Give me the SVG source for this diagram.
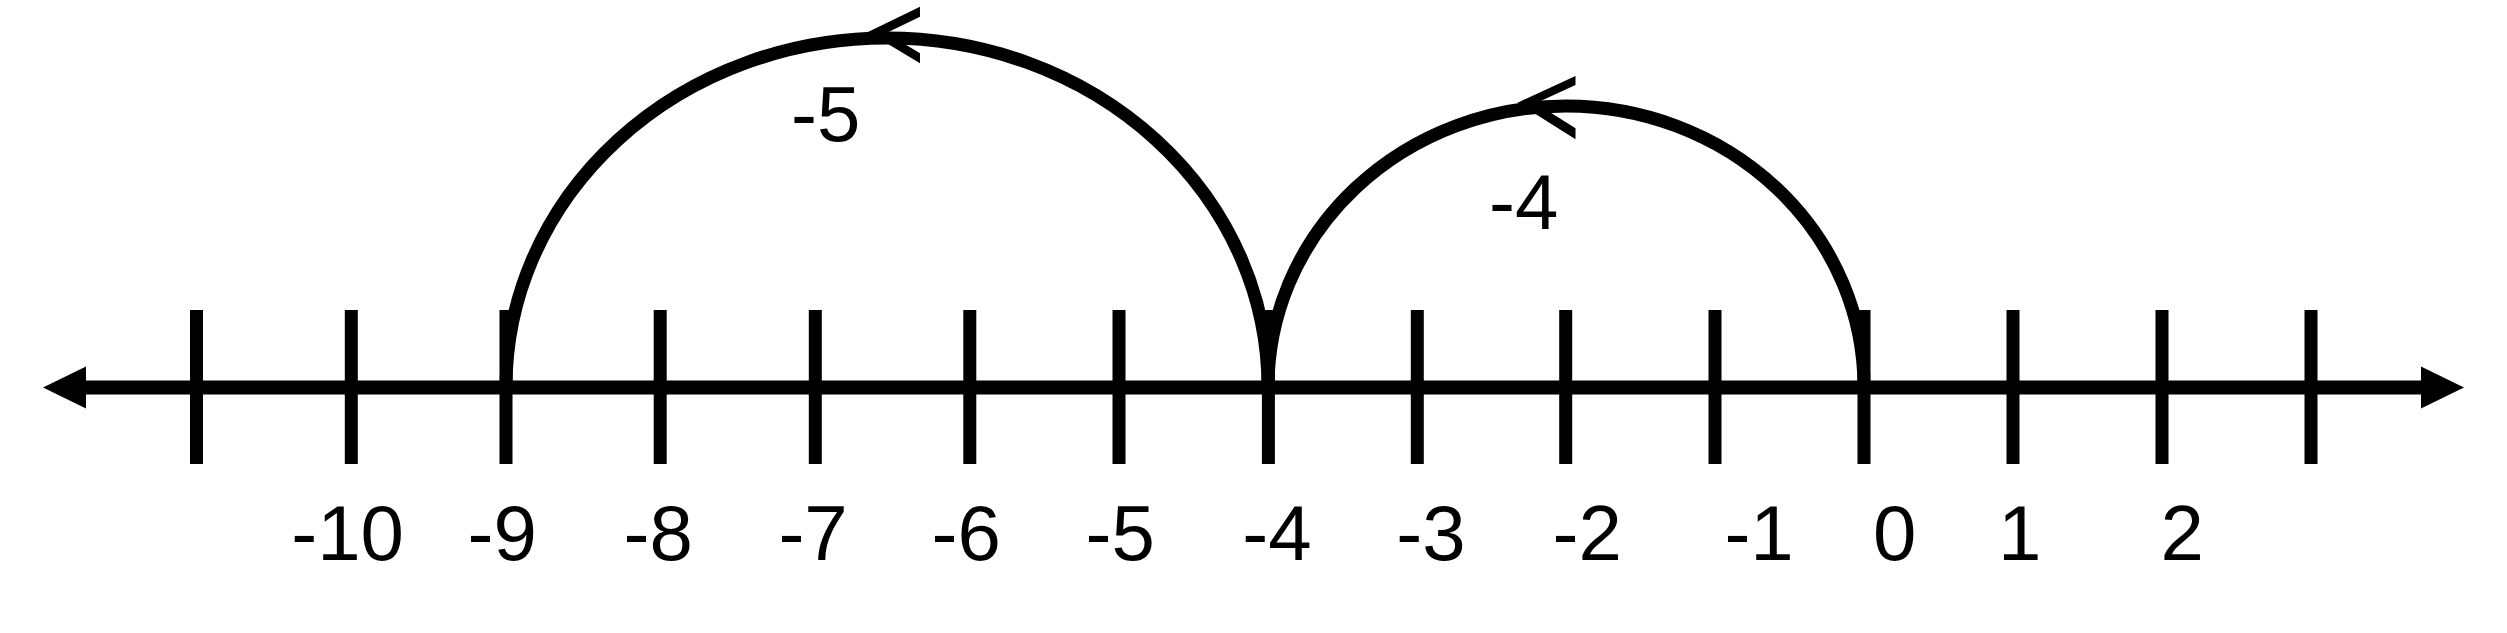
<svg xmlns="http://www.w3.org/2000/svg" width="2507" height="633" viewBox="0 0 2507 633">
<style>
.bg{fill:#ffffff}
.axis{stroke:#000;stroke-width:14;fill:none}
.tick{stroke:#000;stroke-width:13;fill:none}
.jump{stroke:#000;stroke-width:13;fill:none}
.head{fill:#000;stroke:none}
.lbl{font-family:"Liberation Sans",Arial,sans-serif;font-size:78px;fill:#000}
</style>
<rect class="bg" x="0" y="0" width="2507" height="633"/>
<g id="axis">
  <line class="axis" x1="80" y1="387.5" x2="2426" y2="387.5"/>
  <polygon class="head" points="43,387.5 86,366.5 86,408.5"/>
  <polygon class="head" points="2464,387.5 2421,366.5 2421,408.5"/>
</g>
<g id="ticks">
  <line class="tick" x1="196.5" y1="310" x2="196.5" y2="464"/>
  <line class="tick" x1="351.3" y1="310" x2="351.3" y2="464"/>
  <line class="tick" x1="506" y1="310" x2="506" y2="464"/>
  <line class="tick" x1="660.2" y1="310" x2="660.2" y2="464"/>
  <line class="tick" x1="815.3" y1="310" x2="815.3" y2="464"/>
  <line class="tick" x1="969.8" y1="310" x2="969.8" y2="464"/>
  <line class="tick" x1="1119" y1="310" x2="1119" y2="464"/>
  <line class="tick" x1="1268.4" y1="310" x2="1268.4" y2="464"/>
  <line class="tick" x1="1417.3" y1="310" x2="1417.3" y2="464"/>
  <line class="tick" x1="1565.7" y1="310" x2="1565.7" y2="464"/>
  <line class="tick" x1="1715" y1="310" x2="1715" y2="464"/>
  <line class="tick" x1="1864" y1="310" x2="1864" y2="464"/>
  <line class="tick" x1="2013" y1="310" x2="2013" y2="464"/>
  <line class="tick" x1="2162" y1="310" x2="2162" y2="464"/>
  <line class="tick" x1="2311" y1="310" x2="2311" y2="464"/>
</g>
<g id="labels">
  <text class="lbl" x="291.2" y="560">-10</text>
  <text class="lbl" x="467.6" y="560">-9</text>
  <text class="lbl" x="623.6" y="560">-8</text>
  <text class="lbl" x="778.4" y="560">-7</text>
  <text class="lbl" x="931.6" y="560">-6</text>
  <text class="lbl" x="1085.6" y="560">-5</text>
  <text class="lbl" x="1242.2" y="560">-4</text>
  <text class="lbl" x="1396.2" y="560">-3</text>
  <text class="lbl" x="1552.6" y="560">-2</text>
  <text class="lbl" x="1724.4" y="560">-1</text>
  <text class="lbl" x="1873" y="560">0</text>
  <text class="lbl" x="1998" y="560">1</text>
  <text class="lbl" x="2160.5" y="560">2</text>
</g>
<g id="connectors">
  <g id="jump-minus5">
    <path class="jump" d="M 506 387 A 381 349 0 0 1 1268 387"/>
    <polygon class="head" points="868,32 920,6.7 920,16.7 886.4,33 920,53.3 920,63.3"/>
    <text class="lbl" x="791" y="141">-5</text>
  </g>
  <g id="jump-minus4">
    <path class="jump" d="M 1268 387 A 298 281 0 0 1 1864 387"/>
    <polygon class="head" points="1517.4,102.7 1575.5,76 1575.5,85 1535.8,103.3 1575.5,128.3 1575.5,139.3"/>
    <text class="lbl" x="1489" y="229">-4</text>
  </g>
</g>
</svg>
